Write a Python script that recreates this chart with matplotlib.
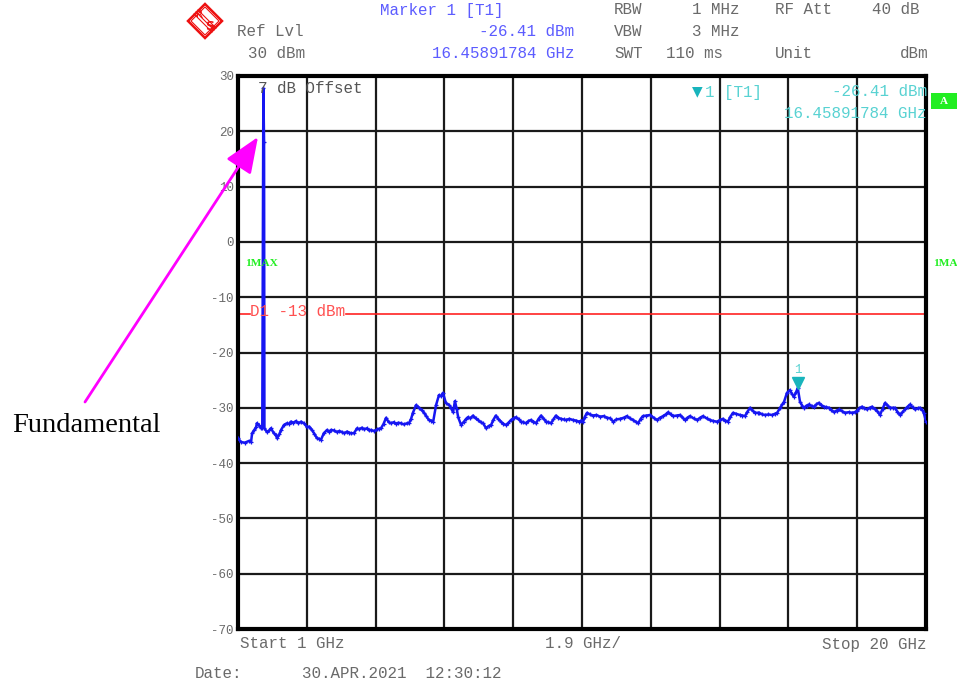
import matplotlib.pyplot as plt
from matplotlib.patches import Polygon, Rectangle
import matplotlib.transforms as mtransforms

# analyzer sweep, max hold trace 1..20 GHz
freq_ghz = [
    1.00, 1.08, 1.19, 1.30, 1.36, 1.39, 1.45, 1.50, 1.52, 1.58, 1.64, 1.67,
    1.70, 1.72, 1.73, 1.80, 1.86, 1.91, 1.99, 2.04, 2.08, 2.14, 2.19, 2.27,
    2.35, 2.41, 2.46, 2.53, 2.60, 2.67, 2.74, 2.82, 2.91, 2.97, 3.04, 3.11,
    3.18, 3.24, 3.29, 3.37, 3.46, 3.52, 3.57, 3.65, 3.73, 3.80, 3.87, 3.94,
    4.01, 4.07, 4.12, 4.20, 4.29, 4.35, 4.42, 4.49, 4.56, 4.62, 4.67, 4.76,
    4.84, 4.90, 4.95, 5.02, 5.09, 5.16, 5.23, 5.30, 5.36, 5.43, 5.50, 5.58,
    5.67, 5.72, 5.78, 5.83, 5.92, 6.00, 6.07, 6.14, 6.20, 6.27, 6.33, 6.39,
    6.47, 6.55, 6.60, 6.66, 6.74, 6.83, 6.88, 6.94, 6.99, 7.04, 7.08, 7.16,
    7.24, 7.30, 7.35, 7.42, 7.49, 7.56, 7.63, 7.70, 7.77, 7.85, 7.92, 7.99,
    8.05, 8.12, 8.19, 8.26, 8.33, 8.40, 8.47, 8.54, 8.61, 8.68, 8.75, 8.82,
    8.88, 8.95, 9.02, 9.09, 9.16, 9.23, 9.30, 9.37, 9.44, 9.51, 9.57, 9.64,
    9.71, 9.78, 9.85, 9.92, 9.99, 10.06, 10.15, 10.25, 10.33, 10.42, 10.48, 10.53,
    10.58, 10.64, 10.72, 10.80, 10.90, 11.00, 11.10, 11.19, 11.28, 11.36, 11.45, 11.55,
    11.65, 11.74, 11.82, 11.91, 11.98, 12.05, 12.12, 12.18, 12.28, 12.38, 12.48, 12.57,
    12.65, 12.74, 12.81, 12.88, 12.95, 13.01, 13.11, 13.21, 13.28, 13.34, 13.41, 13.48,
    13.58, 13.68, 13.76, 13.84, 13.94, 14.03, 14.13, 14.23, 14.31, 14.39, 14.46, 14.53,
    14.60, 14.67, 14.76, 14.86, 14.93, 15.00, 15.07, 15.14, 15.21, 15.28, 15.35, 15.39,
    15.48, 15.56, 15.65, 15.75, 15.82, 15.89, 15.97, 16.03, 16.08, 16.16, 16.24, 16.30,
    16.35, 16.41, 16.45891784, 16.52, 16.58, 16.63, 16.70, 16.77, 16.84, 16.91, 16.97, 17.04,
    17.11, 17.18, 17.25, 17.32, 17.39, 17.46, 17.53, 17.60, 17.68, 17.76, 17.86, 17.96,
    18.03, 18.09, 18.16, 18.23, 18.30, 18.37, 18.44, 18.51, 18.58, 18.65, 18.73, 18.80,
    18.87, 18.94, 19.01, 19.08, 19.14, 19.21, 19.28, 19.35, 19.42, 19.49, 19.56, 19.63,
    19.70, 19.77, 19.83, 19.90, 19.94, 20.00,
]
level_dbm = [
    -35.5, -36.2, -36.3, -36.0, -36.2, -34.6, -34.0, -33.5, -32.8, -33.2, -33.7, -33.6,
    27.8, 18.1, -33.7, -34.4, -34.1, -33.7, -34.6, -34.9, -35.5, -34.8, -34.0, -33.1,
    -32.8, -32.9, -32.5, -32.7, -32.4, -32.8, -32.5, -32.8, -33.5, -33.4, -34.0, -34.7,
    -35.5, -35.6, -35.8, -34.6, -34.0, -34.3, -34.0, -34.1, -34.4, -34.2, -34.4, -34.6,
    -34.3, -34.5, -34.6, -34.6, -33.7, -33.9, -33.6, -33.9, -33.7, -34.1, -34.0, -34.2,
    -33.9, -33.8, -33.7, -32.9, -31.8, -32.6, -32.8, -32.6, -32.9, -32.7, -32.8, -33.0,
    -32.8, -32.8, -32.0, -30.9, -29.5, -30.0, -30.4, -30.9, -31.5, -32.2, -32.3, -32.5,
    -29.5, -27.7, -27.9, -27.3, -29.1, -29.5, -30.0, -30.8, -28.8, -30.2, -31.7, -33.1,
    -32.5, -32.0, -31.7, -31.9, -31.4, -31.9, -32.2, -32.6, -32.8, -33.7, -33.3, -33.1,
    -32.2, -31.4, -32.0, -32.5, -32.9, -33.1, -32.7, -32.2, -31.9, -31.7, -32.1, -32.5,
    -32.6, -32.8, -32.4, -32.2, -32.5, -32.8, -32.0, -31.4, -32.0, -32.5, -32.6, -32.8,
    -32.1, -31.4, -31.8, -32.0, -32.1, -32.2, -32.0, -32.2, -32.3, -32.5, -32.3, -32.5,
    -31.6, -30.9, -31.2, -31.4, -31.3, -31.6, -31.5, -31.8, -31.9, -32.5, -32.1, -32.0,
    -31.8, -31.5, -31.9, -32.2, -32.5, -32.8, -32.0, -31.5, -31.4, -31.3, -31.8, -32.2,
    -31.8, -31.5, -31.2, -30.8, -31.2, -31.5, -31.4, -31.3, -31.8, -32.2, -31.8, -31.5,
    -31.9, -32.2, -31.8, -31.5, -31.9, -32.2, -32.4, -32.5, -32.2, -32.0, -32.3, -32.5,
    -31.6, -30.9, -31.1, -31.3, -31.4, -31.5, -30.7, -30.0, -30.5, -30.9, -30.9, -30.9,
    -31.2, -31.3, -31.2, -31.3, -31.1, -30.9, -30.0, -29.4, -28.9, -27.3, -26.8, -27.5,
    -28.0, -27.2, -26.41, -28.9, -29.6, -30.0, -29.6, -29.4, -29.7, -29.8, -29.4, -29.1,
    -29.5, -29.8, -29.9, -30.0, -30.4, -30.8, -30.5, -30.3, -30.6, -30.9, -30.8, -30.9,
    -30.8, -30.6, -30.1, -29.8, -30.1, -30.3, -30.0, -29.8, -30.2, -30.6, -31.3, -30.2,
    -29.1, -29.6, -30.0, -30.0, -30.0, -30.7, -31.3, -30.8, -30.3, -29.8, -29.4, -29.9,
    -30.3, -30.1, -30.0, -30.4, -30.9, -32.5,
]

marker_freq = 16.45891784
marker_level = -26.41
d1_level = -13
start_ghz, stop_ghz, span_div = 1.0, 20.0, 1.9
y_ticks = [30, 20, 10, 0, -10, -20, -30, -40, -50, -60, -70]

W, H = 957, 682
mono = 'Liberation Mono'
grey = '#6a6a6a'
blue_txt = '#5c5cff'
cyan = '#58d2d2'
green = '#22ee22'


def px(x, y):
    # screen pixel -> figure fraction
    return x / W, 1 - y / H


fig = plt.figure(figsize=(W / 100, H / 100), dpi=100)
ax = fig.add_axes([238 / W, 53 / H, 688 / W, 553 / H])

# grid, 10 div x 10 div
ax.set_xlim(start_ghz, stop_ghz)
ax.set_ylim(-70, 30)
ax.set_xticks([start_ghz + span_div * k for k in range(11)])
ax.set_xticklabels([])
ax.set_yticks(y_ticks)
ax.set_yticklabels([str(v) for v in y_ticks], family=mono, fontsize=9, color=grey)
ax.tick_params(length=0, pad=3)
ax.grid(True, color='#1a1a1a', lw=1.6)
for s in ax.spines.values():
    s.set_linewidth(3)
    s.set_color('black')

# trace
ax.plot(freq_ghz, level_dbm, color='#1616f2', lw=1.8, marker='+', ms=3.5, mew=0.9, zorder=3)

# display line D1
ax.axhline(d1_level, xmin=0, xmax=0.0174, color='#ff2222', lw=1.2, zorder=2)
ax.axhline(d1_level, xmin=0.157, xmax=1, color='#ff2222', lw=1.2, zorder=2)
ax.text(0.018, d1_level + 0.35, 'D1 -13 dBm', transform=ax.get_yaxis_transform(),
        family=mono, fontsize=11.4, color='#ff5050', va='center', ha='left')

# marker 1
up = mtransforms.offset_copy(ax.transData, fig=fig, x=0, y=5, units='dots')
ax.plot([marker_freq], [marker_level], marker='v', ms=8, color='#18b4bc', ls='none',
        transform=up, zorder=4)
up2 = mtransforms.offset_copy(ax.transData, fig=fig, x=0, y=18, units='dots')
ax.text(marker_freq, marker_level, '1', transform=up2, family=mono, fontsize=9,
        color=cyan, ha='center', va='center')

# texts inside the grid
ax.text(0.029, 0.978, '7 dB Offset', transform=ax.transAxes, family=mono, fontsize=11.4,
        color='#555555', va='center')
fig.text(*px(692, 91), '\u25bc', fontsize=10, color='#18b4bc', va='center', ha='left')
fig.text(*px(705, 92), '1 [T1]', family=mono, fontsize=11.4, color=cyan, va='center')
fig.text(*px(927, 92), '-26.41 dBm', family=mono, fontsize=11.4, color=cyan,
         va='center', ha='right')
fig.text(*px(927, 113), '16.45891784 GHz', family=mono, fontsize=11.4, color=cyan,
         va='center', ha='right')
fig.text(*px(245, 263), '1MAX', family='Liberation Serif', weight='bold', fontsize=8.2,
         color=green, va='center')
fig.text(*px(933, 263), '1MA', family='Liberation Serif', weight='bold', fontsize=8.2,
         color=green, va='center')
fig.add_artist(Rectangle(px(931, 109), 27 / W, 16 / H, transform=fig.transFigure,
                         color=green, lw=0))
fig.text(*px(944, 101), 'A', family='Liberation Serif', weight='bold', fontsize=8,
         color='white', va='center', ha='center')

# header
rows = [10, 32, 54]
fig.text(*px(380, rows[0]), 'Marker 1 [T1]', family=mono, fontsize=11.4, color=blue_txt, va='center')
fig.text(*px(237, rows[1]), 'Ref Lvl', family=mono, fontsize=11.4, color=grey, va='center')
fig.text(*px(574, rows[1]), '-26.41 dBm', family=mono, fontsize=11.4, color=blue_txt,
         va='center', ha='right')
fig.text(*px(248, rows[2]), '30 dBm', family=mono, fontsize=11.4, color=grey, va='center')
fig.text(*px(574, rows[2]), '16.45891784 GHz', family=mono, fontsize=11.4, color=blue_txt,
         va='center', ha='right')
for lab, val, r, right in [('RBW', '1 MHz', 0, 739), ('VBW', '3 MHz', 1, 739),
                           ('SWT', '110 ms', 2, 723)]:
    fig.text(*px(614, rows[r]), lab, family=mono, fontsize=11.4, color=grey, va='center')
    fig.text(*px(right, rows[r]), val, family=mono, fontsize=11.4, color=grey,
             va='center', ha='right')
fig.text(*px(775, rows[0]), 'RF Att', family=mono, fontsize=11.4, color=grey, va='center')
fig.text(*px(919, rows[0]), '40 dB', family=mono, fontsize=11.4, color=grey, va='center', ha='right')
fig.text(*px(775, rows[2]), 'Unit', family=mono, fontsize=11.4, color=grey, va='center')
fig.text(*px(928, rows[2]), 'dBm', family=mono, fontsize=11.4, color=grey, va='center', ha='right')

# R&S logo
red = '#ee1111'
cx, cy = 205, 21
for r, lw in ((17, 1.8), (14, 0.8)):
    fig.add_artist(Polygon([px(cx, cy - r), px(cx + r, cy), px(cx, cy + r), px(cx - r, cy)],
                           closed=True, fill=False, ec=red, lw=lw, transform=fig.transFigure))
for d in (-2, 0, 2):
    fig.add_artist(plt.Line2D([px(cx - 9 + d, 0)[0], px(cx + 9 + d, 0)[0]],
                              [px(0, cy - 9 - d)[1], px(0, cy + 9 - d)[1]],
                              color=red, lw=0.8, transform=fig.transFigure))
fig.text(*px(cx - 5, cy - 6), 'R', family='DejaVu Sans', fontsize=7.5, color=red,
         ha='center', va='center')
fig.text(*px(cx + 5, cy + 6), 'S', family='DejaVu Sans', weight='bold', fontsize=9,
         color=red, ha='center', va='center')

# footer
fig.text(*px(240, 644), 'Start 1 GHz', family=mono, fontsize=11.4, color=grey, va='center')
fig.text(*px(545, 644), '1.9 GHz/', family=mono, fontsize=11.4, color=grey, va='center')
fig.text(*px(927, 644), 'Stop 20 GHz', family=mono, fontsize=11.4, color=grey,
         va='center', ha='right')
fig.text(*px(195, 674), 'Date:', family=mono, fontsize=11.4, color=grey, va='center')
fig.text(*px(302, 674), '30.APR.2021  12:30:12', family=mono, fontsize=11.4, color=grey,
         va='center')

# annotation for the carrier
fig.text(*px(12, 426), 'Fundamental', family='Liberation Serif', fontsize=20.5,
         color='black', va='center')
ax.annotate('', xy=(258, H - 137), xytext=(85, H - 402), xycoords='figure pixels',
            textcoords='figure pixels', annotation_clip=False,
            arrowprops=dict(arrowstyle='-|>,head_length=1.1,head_width=0.45',
                            mutation_scale=20, color='#ff00ff', lw=2, shrinkA=0, shrinkB=0))

fig.savefig('out.png', dpi=100)
